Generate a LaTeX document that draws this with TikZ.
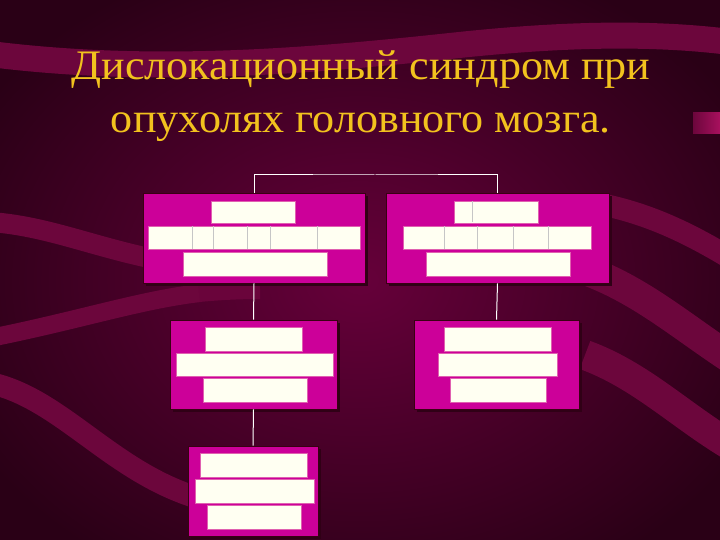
\documentclass[tikz,border=0pt]{standalone}
\usepackage{fontspec}
\setmainfont{Liberation Serif}
\begin{document}
\begin{tikzpicture}[x=1pt,y=-1pt,
  mbox/.style={draw=black!70!purple,line width=0.8pt,fill=boxmag,inner sep=0pt,minimum width=#1},
  wbar/.style={draw=pinkedge,line width=0.6pt,fill=cream,inner sep=0pt,minimum height=23pt,minimum width=#1},
  conn/.style={draw=white,line width=1pt},
  divl/.style={draw=gray!45,line width=0.5pt},
  band/.style={draw=bandcol}]
\definecolor{bgmid}{HTML}{66003A}
\definecolor{bgedge}{HTML}{2A0016}
\definecolor{bandcol}{HTML}{6C063C}
\definecolor{boxmag}{HTML}{CC0099}
\definecolor{pinkedge}{HTML}{E060B0}
\definecolor{cream}{HTML}{FFFFF2}
\definecolor{gold}{HTML}{F2C21E}
\definecolor{shadowc}{HTML}{300016}
\definecolor{barpink}{HTML}{A8105E}
% background
\useasboundingbox (0,0) rectangle (720,540);
\begin{scope}
\clip (0,0) rectangle (720,540);
\shade[inner color=bgmid,outer color=bgedge] (-80,-60) rectangle (800,620);
% bands
\draw[band,line width=26pt] (-10,54) .. controls (150,74) and (300,62) .. (450,46) .. controls (560,34) and (650,32) .. (730,42);
\draw[band,line width=20pt] (-10,222) .. controls (50,226) and (100,250) .. (170,262);
\draw[band,line width=18pt] (-10,338) .. controls (80,320) and (140,300) .. (200,293);
\draw[band,line width=18pt,draw=bandcol!60!bgmid] (199,293) .. controls (220,291) and (240,290) .. (260,290);
\draw[band,line width=22pt] (-10,383) .. controls (60,398) and (110,470) .. (195,497);
\draw[band,line width=22pt] (600,204) .. controls (650,214) and (690,234) .. (730,258);
\draw[band,line width=30pt] (585,270) .. controls (640,290) and (680,325) .. (730,358);
\draw[band,line width=30pt] (585,355) .. controls (640,375) and (680,415) .. (730,445);
\shade[left color=bandcol,right color=barpink] (693,113) rectangle (720,134);
\end{scope}
% title
\node[text=gold,font=\fontsize{42}{53}\selectfont,align=center,xscale=1.05,inner sep=0pt] (title) at (361,96)
  {Дислокационный синдром при\\опухолях головного мозга.};
% shadows
\foreach \x/\y/\w/\h in {254/238/222/90, 497.5/238/223/90, 253.5/364.5/167/89, 496.5/364.5/165/89, 253/491/130/90}
  \fill[shadowc] (\x-\w/2+3,\y-\h/2+3) rectangle (\x+\w/2+3,\y+\h/2+3);
% boxes
\node[mbox=222pt,minimum height=90pt] (b1) at (254,238) {};
\node[mbox=223pt,minimum height=90pt] (b2) at (497.5,238) {};
\node[mbox=167pt,minimum height=89pt] (b3) at (253.5,364.5) {};
\node[mbox=165pt,minimum height=89pt] (b4) at (496.5,364.5) {};
\node[mbox=130pt,minimum height=90pt] (b5) at (253,491) {};
% white bars box 1
\node[wbar=84pt,minimum height=22pt] (b1a) at (253,212) {};
\node[wbar=212pt] (b1b) at (254,237.5) {};
\node[wbar=144pt,minimum height=24pt] (b1c) at (255,264) {};
\foreach \x in {192,213,247,270,317} \draw[divl] (\x,226.5) -- (\x,248.5);
% box 2
\node[wbar=84pt,minimum height=22pt] (b2a) at (496,212) {};
\node[wbar=188pt] (b2b) at (497,237.5) {};
\node[wbar=144pt,minimum height=24pt] (b2c) at (498,264) {};
\draw[divl] (472,201.5) -- (472,222.5);
\foreach \x in {444,477,513,548} \draw[divl] (\x,226.5) -- (\x,248.5);
% box 3
\node[wbar=97pt,minimum height=24pt] (b3a) at (253.5,339) {};
\node[wbar=157pt] (b3b) at (254.5,364.5) {};
\node[wbar=104pt,minimum height=24pt] (b3c) at (255,390) {};
% box 4
\node[wbar=107pt,minimum height=24pt] (b4a) at (497.5,339) {};
\node[wbar=119pt] (b4b) at (497.5,364.5) {};
\node[wbar=96pt,minimum height=24pt] (b4c) at (498,390) {};
% box 5
\node[wbar=107pt,minimum height=24pt] (b5a) at (253.5,465) {};
\node[wbar=119pt,minimum height=24pt] (b5b) at (254.5,491) {};
\node[wbar=94pt,minimum height=24pt] (b5c) at (254,517) {};
% connectors
\coordinate (topbar) at (375,175);
\draw[conn] (b1.north) |- (topbar) -| (b2.north);
\draw[conn] (b1.south) -- (b3.north);
\draw[conn] (b2.south) -- (b4.north);
\draw[conn] (b3.south) -- (b5.north);
\end{tikzpicture}
\end{document}
